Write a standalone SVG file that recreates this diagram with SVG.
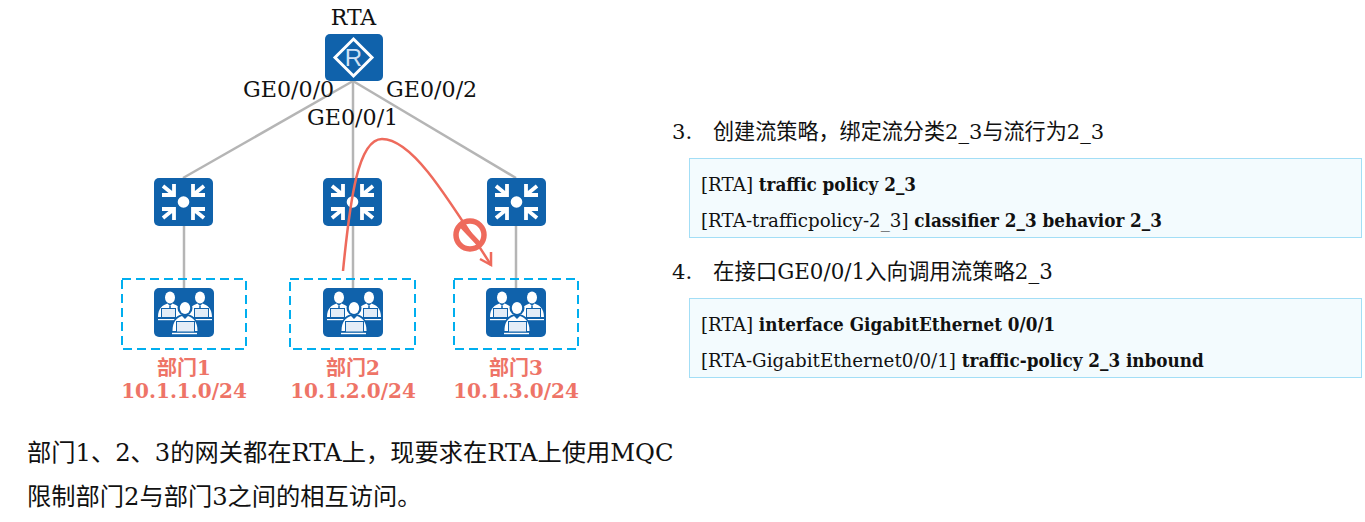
<svg xmlns="http://www.w3.org/2000/svg" width="1365" height="522" viewBox="0 0 1365 522">
<style>
text{font-family:"DejaVu Serif","Noto Sans CJK SC",serif;fill:#111}
.l{font-size:22.2px}
.t{font-size:24.25px}
.n{font-size:21.1px}
.c{font-size:18.25px}
.b{font-family:"DejaVu Serif Condensed","DejaVu Serif","Noto Sans CJK SC",serif;font-weight:bold;font-size:18.7px}
.d{font-size:20px;font-weight:bold;fill:#ee7467;text-anchor:middle}
.g{stroke:#b5b5b5;stroke-width:2.500;fill:none}
.dash{fill:none;stroke:#00aeef;stroke-width:2;stroke-dasharray:9 5}
.box{fill:#f3fbfe;stroke:#a3def6;stroke-width:1}
.r{fill:none;stroke:#ee6a5c;stroke-width:2.500}
.bg{fill:#1062ab}
.w{fill:#fff}
.ws{stroke:#fff;fill:none}
.lap{fill:#e4edf7;stroke:#1062ab;stroke-width:1}
</style>
<defs>
<g id="sw">
<rect class="bg" width="59" height="48" rx="5"/>
<circle class="w" cx="29.500" cy="24" r="5.800"/>
<g class="ws" stroke-width="3.800">
<path d="M9 8L20 17M8 17H20V6"/>
<path d="M50 8L39 17M51 17H39V6"/>
<path d="M9 40L20 31M8 31H20V42"/>
<path d="M50 40L39 31M51 31H39V42"/>
</g>
</g>
<g id="man">
<ellipse class="w" cx="15" cy="9.500" rx="5" ry="6"/>
<path class="w" d="M3 29C3 20 8 17 12.500 15.500L15 18L17.500 15.500C22 17 27 20 27 29Z"/>
<path d="M15 18V21" stroke="#1062ab" stroke-width="1.500"/>
<rect class="w" x="3" y="31" width="24" height="1.200"/>
</g>
<g id="pc">
<rect class="bg" width="60" height="49" rx="5"/>
<use href="#man" x="1"/>
<rect class="lap" x="7.500" y="20.500" width="14" height="9"/>
<use href="#man" x="31"/>
<rect class="lap" x="40.500" y="20.500" width="14" height="9"/>
<circle cx="31" cy="20" r="7.500" fill="#1062ab"/>
<path d="M17 44C17 33 22 28 27 26.500H35C40 28 45 33 45 44Z" fill="#1062ab"/>
<ellipse class="w" cx="31" cy="20" rx="5.200" ry="6"/>
<path class="w" d="M18.500 43C18.500 33 23 30 28 28L31 31L34 28C39 30 43.500 33 43.500 43Z"/>
<rect class="lap" x="22.500" y="33.500" width="18" height="10.500"/>
<rect class="w" x="18" y="44.800" width="25" height="1.400"/>
</g>
</defs>
<g id="connectors">
<path class="g" d="M353 81L183 178"/>
<path class="g" d="M353 81V178"/>
<path class="g" d="M353 81L516 178"/>
<path class="g" d="M184 226V288"/>
<path class="g" d="M353 226V288"/>
<path class="g" d="M516 226V288"/>
</g>
<g id="RTA">
<rect class="bg" x="325" y="34" width="58" height="47" rx="5"/>
<path d="M353.500 39L372 57.500L353.500 76L335 57.500Z" fill="none" stroke="#fff" stroke-width="3"/>
<text x="353.500" y="66" text-anchor="middle" style="font-family:'Liberation Sans',sans-serif;font-size:24px;fill:#cfe2f5">R</text>
<text x="353.500" y="25" text-anchor="middle" style="font-size:22px">RTA</text>
</g>
<g id="port-labels">
<text class="l" x="243" y="97">GE0/0/0</text>
<text class="l" x="386" y="97">GE0/0/2</text>
<text class="l" x="307" y="125">GE0/0/1</text>
</g>
<g id="sw1"><use href="#sw" x="154" y="178"/></g>
<g id="sw2"><use href="#sw" x="323" y="178"/></g>
<g id="sw3"><use href="#sw" x="487" y="178"/></g>
<g id="dept1">
<rect class="dash" x="122" y="279" width="124" height="70"/>
<use href="#pc" x="154" y="288"/>
<text class="d" x="184" y="375">部门1</text>
<text class="d" x="184" y="398">10.1.1.0/24</text>
</g>
<g id="dept2">
<rect class="dash" x="290" y="279" width="125" height="70"/>
<use href="#pc" x="323" y="288"/>
<text class="d" x="353" y="375">部门2</text>
<text class="d" x="353" y="398">10.1.2.0/24</text>
</g>
<g id="dept3">
<rect class="dash" x="454" y="279" width="124" height="70"/>
<use href="#pc" x="486" y="288"/>
<text class="d" x="516" y="375">部门3</text>
<text class="d" x="516" y="398">10.1.3.0/24</text>
</g>
<g id="flow">
<path class="r" d="M343 271C350 200 358 139 382 139C410 139 440 185 491 265"/>
<path class="r" d="M480 259L491 265L491 252"/>
<circle cx="470" cy="235" r="14" fill="none" stroke="#ee6a5c" stroke-width="5.500"/>
<path d="M462 226L479 244" fill="none" stroke="#ee6a5c" stroke-width="5"/>
</g>
<g id="desc">
<text class="t" x="27" y="461">部门1、2、3的网关都在RTA上，现要求在RTA上使用MQC</text>
<text class="t" x="27" y="505">限制部门2与部门3之间的相互访问。</text>
</g>
<g id="step3">
<text class="n" x="672" y="139">3.</text>
<text class="n" x="713" y="139">创建流策略，绑定流分类2_3与流行为2_3</text>
<rect class="box" x="689.500" y="158.500" width="672" height="79"/>
<text class="c" x="701" y="190.500">[RTA] <tspan class="b">traffic policy 2_3</tspan></text>
<text class="c" x="701" y="226.500">[RTA-trafficpolicy-2_3] <tspan class="b">classifier 2_3 behavior 2_3</tspan></text>
</g>
<g id="step4">
<text class="n" x="672" y="278.500">4.</text>
<text class="n" x="713" y="278.500" style="font-size:21.4px">在接口GE0/0/1入向调用流策略2_3</text>
<rect class="box" x="689.500" y="298.500" width="672" height="79"/>
<text class="c" x="701" y="330.500">[RTA] <tspan class="b">interface GigabitEthernet 0/0/1</tspan></text>
<text class="c" x="701" y="366.500">[RTA-GigabitEthernet0/0/1] <tspan class="b">traffic-policy 2_3 inbound</tspan></text>
</g>
</svg>
